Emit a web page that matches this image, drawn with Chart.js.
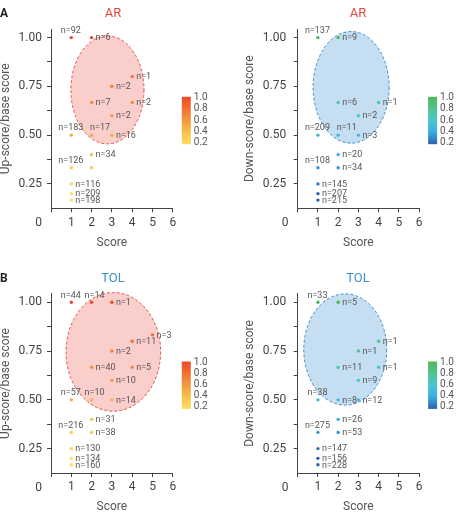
<!DOCTYPE html>
<html>
<head>
<meta charset="utf-8">
<script src="https://cdn.jsdelivr.net/npm/chart.js@4.4.0/dist/chart.umd.min.js"></script>
<style>
  body { margin: 0; background: #fff; width: 460px; height: 514px; position: relative; overflow: hidden; font-family: Roboto, "DejaVu Sans", sans-serif; }
  .panel { position: absolute; width: 230px; height: 257px; }
  .panel canvas { display: block; }
  .tag { position: absolute; font: bold 12px Roboto, sans-serif; color: #222; line-height: 14px; }
  .ttl { position: absolute; width: 80px; margin-left: -40px; text-align: center; font: 13px Roboto, sans-serif; line-height: 16px; }
</style>
</head>
<body>
<div class="panel" style="left:0;top:0"><canvas id="c-ar-up" width="230" height="257"></canvas></div>
<div class="panel" style="left:230px;top:0"><canvas id="c-ar-down" width="230" height="257"></canvas></div>
<div class="panel" style="left:0;top:257px"><canvas id="c-tol-up" width="230" height="257"></canvas></div>
<div class="panel" style="left:230px;top:257px"><canvas id="c-tol-down" width="230" height="257"></canvas></div>

<div class="tag" style="left:0;top:6px">A</div>
<div class="tag" style="left:0;top:271px">B</div>
<div class="ttl" style="left:113px;top:5px;color:#e8483c">AR</div>
<div class="ttl" style="left:358px;top:5px;color:#e8483c">AR</div>
<div class="ttl" style="left:113px;top:270px;color:#3b8fcf">TOL</div>
<div class="ttl" style="left:358px;top:270px;color:#3b8fcf">TOL</div>

<script>
// 軸の目盛り
var xTicks = [0, 1, 2, 3, 4, 5, 6];
var yTicks = [0.25, 0.375, 0.5, 0.625, 0.75, 0.875, 1];
var yLabels = ['0.25', '', '0.50', '', '0.75', '', '1.00'];
var barLabels = ['1.0', '0.8', '0.6', '0.4', '0.2'];

// AR up-score
var arUpX = [1, 2, 4, 3, 2, 4, 3, 1, 2, 3, 2, 1, 2, 1, 1, 1];
var arUpY = [1, 1, 0.8, 0.75, 0.667, 0.667, 0.6, 0.5, 0.5, 0.5, 0.4, 0.333, 0.333, 0.25, 0.2, 0.167];
var arUpN = ['92', '6', '1', '2', '7', '2', '2', '183', '17', '16', '34', '126', '', '116', '209', '198'];
var arUpSide = ['a', 'r', 'r', 'r', 'r', 'r', 'r', 'a', 'b', 'r', 'r', 'a', '', 'r', 'r', 'r'];

// AR down-score
var arDownX = [1, 2, 2, 4, 3, 1, 2, 3, 2, 1, 2, 1, 1, 1];
var arDownY = [1, 1, 0.667, 0.667, 0.6, 0.5, 0.5, 0.5, 0.4, 0.333, 0.333, 0.25, 0.2, 0.167];
var arDownN = ['137', '9', '6', '1', '2', '209', '11', '3', '20', '108', '34', '145', '207', '215'];
var arDownSide = ['a', 'r', 'r', 'r', 'r', 'a', 'b', 'r', 'r', 'a', 'r', 'r', 'r', 'r'];

// TOL up-score
var tolUpX = [1, 2, 3, 5, 4, 3, 2, 4, 3, 1, 2, 3, 2, 1, 2, 1, 1, 1];
var tolUpY = [1, 1, 1, 0.833, 0.8, 0.75, 0.667, 0.667, 0.6, 0.5, 0.5, 0.5, 0.4, 0.333, 0.333, 0.25, 0.2, 0.167];
var tolUpN = ['44', '14', '1', '3', '11', '2', '40', '5', '10', '57', '10', '14', '31', '216', '38', '130', '134', '160'];
var tolUpSide = ['a', 'c', 'r', 'r', 'r', 'r', 'r', 'r', 'r', 'a', 'c', 'r', 'r', 'a', 'r', 'r', 'r', 'r'];

// TOL down-score
var tolDownX = [1, 2, 4, 3, 2, 4, 3, 1, 2, 3, 2, 1, 2, 1, 1, 1];
var tolDownY = [1, 1, 0.8, 0.75, 0.667, 0.667, 0.6, 0.5, 0.5, 0.5, 0.4, 0.333, 0.333, 0.25, 0.2, 0.167];
var tolDownN = ['33', '5', '1', '1', '11', '1', '9', '38', '8', '12', '26', '275', '53', '147', '156', '228'];
var tolDownSide = ['a', 'r', 'r', 'r', 'r', 'r', 'r', 'a', 'r', 'r', 'r', 'a', 'r', 'r', 'r', 'r'];

// 楕円 (中心x, 中心y, 半径x, 半径y) データ単位
var arUpOval = [2.78, 0.732, 1.8, 0.277];
var arDownOval = [2.64, 0.745, 1.88, 0.286];
var tolUpOval = [3.07, 0.746, 2.33, 0.304];
var tolDownOval = [2.35, 0.758, 2.05, 0.285];

var RED_STOPS = [[0.2, [250, 224, 96]], [0.4, [248, 192, 74]], [0.6, [246, 152, 62]], [0.8, [243, 112, 52]], [1.0, [237, 72, 42]]];
var BLUE_STOPS = [[0.2, [44, 96, 172]], [0.4, [58, 172, 226]], [0.6, [72, 198, 206]], [0.8, [82, 194, 142]], [1.0, [78, 184, 86]]];

var RED_THEME = { stops: RED_STOPS, fill: 'rgba(242,120,110,0.36)', line: '#e4524a' };
var BLUE_THEME = { stops: BLUE_STOPS, fill: 'rgba(90,160,215,0.35)', line: '#3d8ccc' };

function colorAt(stops, v) {
  if (v <= stops[0][0]) return 'rgb(' + stops[0][1].join(',') + ')';
  for (var i = 1; i < stops.length; i++) {
    if (v <= stops[i][0]) {
      var a = stops[i - 1], b = stops[i];
      var t = (v - a[0]) / (b[0] - a[0]);
      var c = a[1].map(function(k, j) { return Math.round(k + (b[1][j] - k) * t); });
      return 'rgb(' + c.join(',') + ')';
    }
  }
  return 'rgb(' + stops[stops.length - 1][1].join(',') + ')';
}

var FONT = 'Roboto, "DejaVu Sans", sans-serif';

/** 楕円・ラベル・カラーバーの描画 */
var panelPlugin = {
  id: 'panelDeco',
  beforeDatasetsDraw: function(chart) {
    var o = chart.options.plugins.panelDeco;
    var xs = chart.scales.x, ys = chart.scales.y, ctx = chart.ctx;
    var cx = xs.getPixelForValue(o.oval[0]);
    var cy = ys.getPixelForValue(o.oval[1]);
    var rx = Math.abs(xs.getPixelForValue(o.oval[0] + o.oval[2]) - cx);
    var ry = Math.abs(ys.getPixelForValue(o.oval[1] + o.oval[3]) - cy);
    ctx.save();
    ctx.beginPath();
    ctx.ellipse(cx, cy, rx, ry, 0, 0, Math.PI * 2);
    ctx.fillStyle = o.theme.fill;
    ctx.fill();
    ctx.setLineDash([3, 2]);
    ctx.lineWidth = 1;
    ctx.strokeStyle = o.theme.line;
    ctx.stroke();
    ctx.restore();
  },
  afterDatasetsDraw: function(chart) {
    var o = chart.options.plugins.panelDeco;
    var ctx = chart.ctx;
    var meta = chart.getDatasetMeta(0);
    ctx.save();
    ctx.font = '9px ' + FONT;
    ctx.fillStyle = '#555';
    ctx.textBaseline = 'middle';
    meta.data.forEach(function(pt, i) {
      var txt = o.n[i];
      if (!txt) return;
      txt = 'n=' + txt;
      var side = o.side[i];
      if (side === 'r') {
        ctx.textAlign = 'left';
        ctx.fillText(txt, pt.x + 4, pt.y + 0.5);
      } else if (side === 'a') {
        ctx.textAlign = 'center';
        ctx.fillText(txt, pt.x - 0.5, pt.y - 7);
      } else if (side === 'c') {
        ctx.textAlign = 'center';
        ctx.fillText(txt, pt.x + 3, pt.y - 7);
      } else {
        ctx.textAlign = 'left';
        ctx.fillText(txt, pt.x - 1.5, pt.y - 7);
      }
    });
    ctx.restore();
  },
  afterDraw: function(chart) {
    var o = chart.options.plugins.panelDeco;
    var ctx = chart.ctx, area = chart.chartArea;
    var ys = chart.scales.y;
    ctx.save();
    ctx.font = '12px ' + FONT;
    ctx.fillStyle = '#444';
    ctx.textBaseline = 'middle';

    // y軸の目盛りラベル
    ctx.textAlign = 'right';
    yTicks.forEach(function(v, i) {
      if (yLabels[i]) ctx.fillText(yLabels[i], area.left - 4 - o.ytp, ys.getPixelForValue(v));
    });

    // 原点の「0」
    ctx.textAlign = 'center';
    ctx.fillText('0', chart.scales.x.getPixelForValue(0) - 12.5, area.bottom + 14.6);

    // カラーバー
    var bx = area.right + 9, by = area.top + 67.6, bw = 9, bh = 47.4;
    var g = ctx.createLinearGradient(0, by + bh, 0, by);
    o.theme.stops.forEach(function(s) {
      g.addColorStop((s[0] - 0.2) / 0.8, 'rgb(' + s[1].join(',') + ')');
    });
    ctx.fillStyle = g;
    ctx.fillRect(bx, by, bw, bh);
    ctx.font = '10px ' + FONT;
    ctx.fillStyle = '#555';
    ctx.textAlign = 'left';
    barLabels.forEach(function(lb, i) {
      ctx.fillText(lb, bx + bw + 3, by + 1 + i * 11.1);
    });
    ctx.restore();
  }
};

function makePanel(id, xs, ys, ns, sides, oval, theme, yTitle, lay) {
  var pts = xs.map(function(x, i) { return { x: x, y: ys[i] }; });
  return new Chart(document.getElementById(id), {
    type: 'scatter',
    data: {
      datasets: [{
        data: pts,
        pointRadius: 1.7,
        pointBorderWidth: 0,
        pointBackgroundColor: ys.map(function(v) { return colorAt(theme.stops, v); })
      }]
    },
    options: {
      responsive: false,
      animation: false,
      layout: { padding: { left: 0, top: lay.top, right: lay.right, bottom: 0 } },
      plugins: {
        legend: { display: false },
        tooltip: { enabled: false },
        panelDeco: { n: ns, side: sides, oval: oval, theme: theme, ytp: lay.ytp }
      },
      scales: {
        x: {
          type: 'linear', min: 0, max: 6,
          afterBuildTicks: function(s) { s.ticks = xTicks.map(function(v) { return { value: v }; }); },
          afterFit: function(s) { s.height = lay.xh; },
          grid: { drawOnChartArea: false, drawTicks: true, tickLength: 4, color: '#444' },
          border: { color: '#444', width: 1 },
          ticks: {
            autoSkip: false, maxRotation: 0, padding: 3, color: '#444',
            font: { size: 12, family: FONT },
            callback: function(v) { return v === 0 ? '' : String(v); }
          },
          title: { display: true, text: 'Score', color: '#555', font: { size: 12, family: FONT, lineHeight: 1 }, padding: { top: 0, bottom: lay.xtb } }
        },
        y: {
          type: 'linear', min: 0.125, max: 1.043,
          afterBuildTicks: function(s) { s.ticks = yTicks.map(function(v) { return { value: v }; }); },
          afterFit: function(s) { s.width = lay.yw; },
          grid: { drawOnChartArea: false, drawTicks: true, tickLength: 4, color: '#444' },
          border: { color: '#444', width: 1 },
          ticks: {
            autoSkip: false, padding: lay.ytp, color: '#444',
            font: { size: 12, family: FONT },
            callback: function() { return ''; }
          },
          title: { display: true, text: yTitle, color: '#555', font: { size: 12, family: FONT, lineHeight: 1 }, padding: { top: lay.ytt, bottom: 0 } }
        }
      }
    },
    plugins: [panelPlugin]
  });
}

var LAY_TL = { top: 29.2, right: 57.2, xh: 48.7, xtb: 8, yw: 51, ytp: 5, ytt: 0 };
var LAY_TR = { top: 29.2, right: 40.9, xh: 48.7, xtb: 8, yw: 67.7, ytp: 7.5, ytt: 14 };
var LAY_BL = { top: 36.9, right: 57.2, xh: 41, xtb: 1, yw: 51, ytp: 5, ytt: 0 };
var LAY_BR = { top: 36.9, right: 40.9, xh: 41, xtb: 1, yw: 67.7, ytp: 7.5, ytt: 14 };

makePanel('c-ar-up', arUpX, arUpY, arUpN, arUpSide, arUpOval, RED_THEME, 'Up-score/base score', LAY_TL);
makePanel('c-ar-down', arDownX, arDownY, arDownN, arDownSide, arDownOval, BLUE_THEME, 'Down-score/base score', LAY_TR);
makePanel('c-tol-up', tolUpX, tolUpY, tolUpN, tolUpSide, tolUpOval, RED_THEME, 'Up-score/base score', LAY_BL);
makePanel('c-tol-down', tolDownX, tolDownY, tolDownN, tolDownSide, tolDownOval, BLUE_THEME, 'Down-score/base score', LAY_BR);
</script>
</body>
</html>
